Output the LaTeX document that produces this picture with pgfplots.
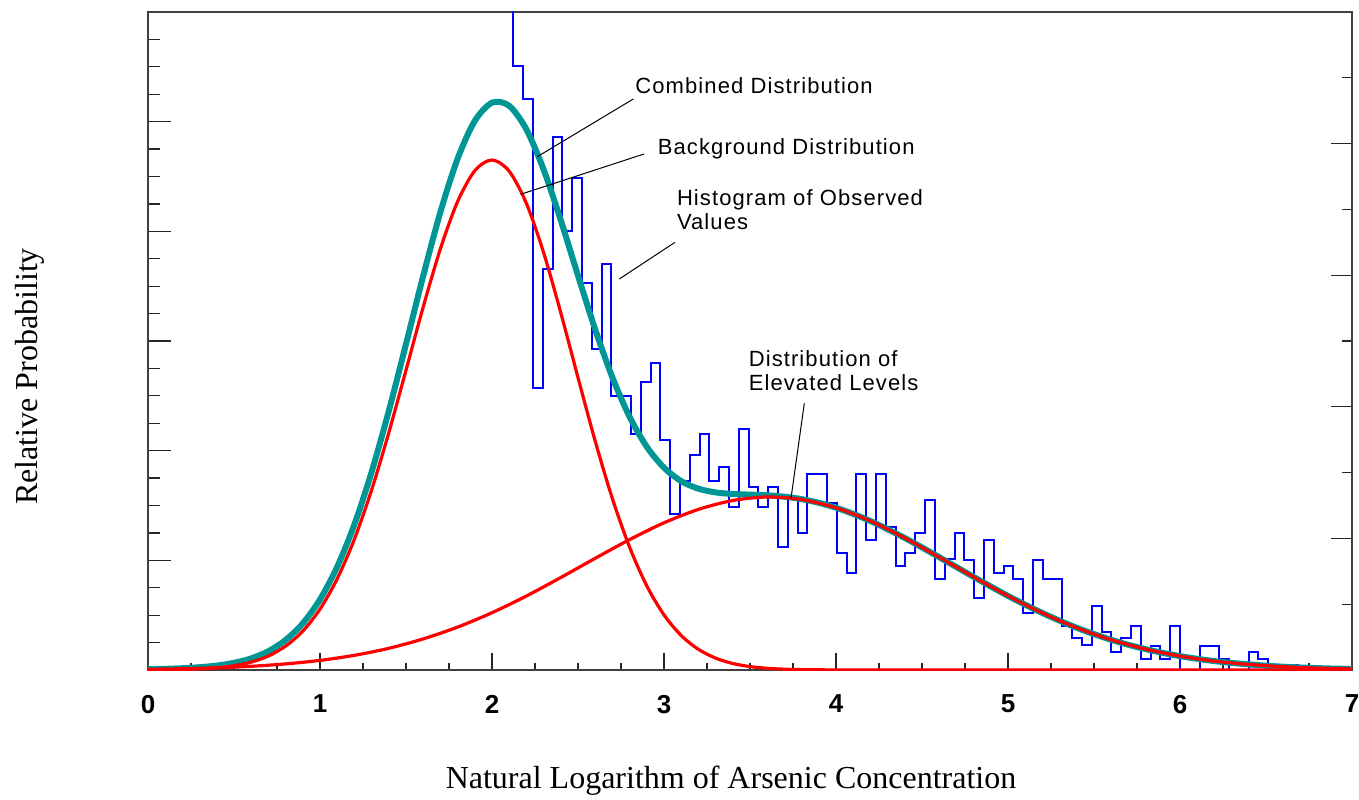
\documentclass[border=0pt]{standalone}
\usepackage{fontspec}
\setmainfont{Liberation Serif}
\newfontfamily\arial{Liberation Sans}
\usepackage{pgfplots}
\pgfplotsset{compat=1.18}
\definecolor{histblue}{RGB}{0,0,255}
\definecolor{combteal}{RGB}{0,150,150}
\definecolor{distred}{RGB}{255,0,0}
\pgfplotsset{
  frameaxis/.style={
    at={(74pt,64.5pt)}, anchor=south west, scale only axis,
    width=602pt, height=329pt,
    axis line style={black!75, line width=1pt},
    tick style={black!85, line width=0.6pt},
    tick align=inside,
  }
}
\begin{document}
\begin{tikzpicture}
\path[use as bounding box] (0,0) rectangle (679.5pt,399.5pt);
% left ticks
\begin{axis}[frameaxis, xmin=0, xmax=7, ymin=0, ymax=24,
  xtick=\empty, ytick={0,4,...,24}, minor ytick={1,2,...,23},
  ytick pos=left, yticklabels={},
  major tick length=11.5pt, minor tick length=6pt]
\end{axis}
% right ticks
\begin{axis}[frameaxis, xmin=0, xmax=7, ymin=0, ymax=10,
  xtick=\empty, ytick={0,2,...,10}, minor ytick={1,3,...,9},
  ytick pos=right, yticklabels={},
  major tick length=10.5pt, minor tick length=5pt]
\end{axis}
% data and bottom ticks
\begin{axis}[frameaxis, xmin=0, xmax=7, ymin=0, ymax=658,
  ytick=\empty, xtick={0,1,...,7}, xticklabels={0,1,2,3,4,5,6,7},
  minor xtick={0,0.25,...,7}, xtick pos=bottom,
  major tick length=8.5pt, minor tick length=3.6pt,
  xticklabel style={font=\fontsize{13}{15}\selectfont\arial\bfseries, yshift=-9pt}]
% histogram of observed values
\addplot[histblue, line width=1pt, const plot mark left] coordinates {
(2.124,700) (2.124,604) (2.181,571) (2.238,281.7) (2.295,400.7) (2.352,532.7)
(2.409,439.3) (2.466,492.3) (2.523,386.7) (2.580,321) (2.637,406)
(2.694,274.3) (2.751,274.3) (2.808,235.7) (2.865,288.3) (2.922,307.3)
(2.979,230) (3.036,156) (3.093,189.3) (3.150,215.5) (3.207,235.8)
(3.264,189.3) (3.321,203) (3.378,163.3) (3.435,241) (3.492,183)
(3.549,163.3) (3.606,182.7) (3.663,123.3) (3.720,171.7) (3.777,137.3)
(3.834,196) (3.891,196) (3.948,167.3) (4.005,116.7) (4.062,97.3)
(4.119,196) (4.176,130) (4.233,196) (4.290,143) (4.347,104.3)
(4.404,116.7) (4.461,137.5) (4.518,170) (4.575,90.7) (4.632,111)
(4.689,137.3) (4.746,110) (4.803,71.7) (4.860,130) (4.917,97.3)
(4.974,104.3) (5.031,90.7) (5.088,57.3) (5.145,110) (5.202,90.7)
(5.259,90.7) (5.316,44.3) (5.373,31.7) (5.430,25) (5.487,64.3)
(5.544,38.3) (5.601,18.3) (5.658,31.7) (5.715,44) (5.772,10.8)
(5.829,24.3) (5.886,10.8) (5.943,44) (6.000,0) (6.057,0)
(6.114,24.5) (6.171,24.5) (6.228,11) (6.285,0) (6.342,0)
(6.399,18.3) (6.456,10.8) (6.513,3) (6.570,5) (6.627,5) (6.684,0)
};
% combined distribution
\addplot[combteal, line width=3pt, smooth] coordinates {
(0,0.8) (0.1,1.2) (0.2,1.8) (0.3,2.8) (0.4,4.4) (0.5,7.2) (0.6,11.6)
(0.7,18.8) (0.8,30.0) (0.9,46.6) (1.0,70.5) (1.1,103.2) (1.2,145.5)
(1.3,198.0) (1.4,259.0) (1.5,325.9) (1.6,394.1) (1.7,457.9) (1.8,511.3)
(1.9,549.1) (2.0,567.3) (2.1,564.2) (2.2,540.6) (2.3,500.5) (2.4,449.7)
(2.5,394.4) (2.6,340.6) (2.7,292.6) (2.8,253.2) (2.9,223.2) (3.0,202.3)
(3.1,188.9) (3.2,181.3) (3.3,177.6) (3.4,176.0) (3.5,175.4) (3.6,174.7)
(3.7,173.3) (3.8,170.9) (3.9,167.2) (4.0,162.3) (4.1,156.1) (4.2,149.0)
(4.3,140.8) (4.4,132.0) (4.5,122.6) (4.6,112.8) (4.7,103.0) (4.8,93.1)
(4.9,83.5) (5.0,74.1) (5.1,65.3) (5.2,57.0) (5.3,49.3) (5.4,42.2)
(5.5,35.9) (5.6,30.2) (5.7,25.2) (5.8,20.9) (5.9,17.1) (6.0,13.9)
(6.1,11.2) (6.2,8.9) (6.3,7.1) (6.4,5.6) (6.5,4.3) (6.6,3.3) (6.7,2.5)
(6.8,1.9) (6.9,1.4) (7.0,1.1)
};
% background distribution
\addplot[distred, line width=1.6pt, smooth] coordinates {
(0,0.1) (0.1,0.2) (0.2,0.5) (0.3,1.1) (0.4,2.2) (0.5,4.3) (0.6,7.9)
(0.7,14.0) (0.8,23.9) (0.9,38.9) (1.0,60.9) (1.1,91.2) (1.2,130.8)
(1.3,180.0) (1.4,237.3) (1.5,299.8) (1.6,363.0) (1.7,421.2) (1.8,468.4)
(1.9,499.3) (2.0,510) (2.1,498.8) (2.2,466.6) (2.3,417.4) (2.4,357.2)
(2.5,292.4) (2.6,228.9) (2.7,171.4) (2.8,122.8) (2.9,84.1) (3.0,55.1)
(3.1,34.5) (3.2,20.7) (3.3,11.9) (3.4,6.5) (3.5,3.4) (3.6,1.7) (3.7,0.8)
(3.8,0.4) (4.0,0.1) (4.5,0) (5.0,0) (6.0,0) (7.0,0)
};
% distribution of elevated levels
\addplot[distred, line width=1.6pt, smooth] coordinates {
(0,0.7) (0.2,1.3) (0.4,2.2) (0.6,3.7) (0.8,6.1) (1.0,9.6) (1.2,14.7)
(1.4,21.7) (1.6,31.1) (1.8,42.9) (2.0,57.3) (2.2,74.0) (2.4,92.5)
(2.6,111.7) (2.8,130.4) (3.0,147.2) (3.2,160.6) (3.4,169.5) (3.6,173.0)
(3.8,170.5) (4.0,162.2) (4.2,149.0) (4.4,132.0) (4.6,112.8) (4.8,93.1)
(5.0,74.1) (5.2,57.0) (5.4,42.2) (5.6,30.2) (5.8,20.9) (6.0,13.9)
(6.2,8.9) (6.4,5.6) (6.6,3.3) (6.8,1.9) (7.0,1.1)
};
\end{axis}
% annotations
\begin{scope}[every node/.style={inner sep=0pt, anchor=base west,
  font=\fontsize{11}{12.5}\selectfont\arial\addfontfeature{LetterSpace=5}}]
\node at (317.5pt,352.85pt) {Combined Distribution};
\node at (328.75pt,322pt) {Background Distribution};
\node at (338.3pt,296.7pt) {Histogram of Observed};
\node at (338.3pt,284.5pt) {Values};
\node at (374.2pt,216.15pt) {Distribution of};
\node at (374.2pt,204.15pt) {Elevated Levels};
\end{scope}
\draw[black, line width=0.5pt] (316.65pt,350pt) -- (268.65pt,321.15pt);
\draw[black, line width=0.5pt] (322pt,322.5pt) -- (260.35pt,302.35pt);
\draw[black, line width=0.5pt] (337.5pt,278.35pt) -- (309.65pt,260pt);
\draw[black, line width=0.5pt] (402.15pt,197.85pt) -- (395.5pt,150.35pt);
% axis titles
\node[inner sep=0pt, anchor=base, font=\fontsize{16}{19}\selectfont] at (365.5pt,5.5pt) {Natural Logarithm of Arsenic Concentration};
\node[inner sep=0pt, anchor=center, rotate=90, font=\fontsize{16}{19}\selectfont] at (15pt,211.25pt) {Relative Probability};
\end{tikzpicture}
\end{document}
